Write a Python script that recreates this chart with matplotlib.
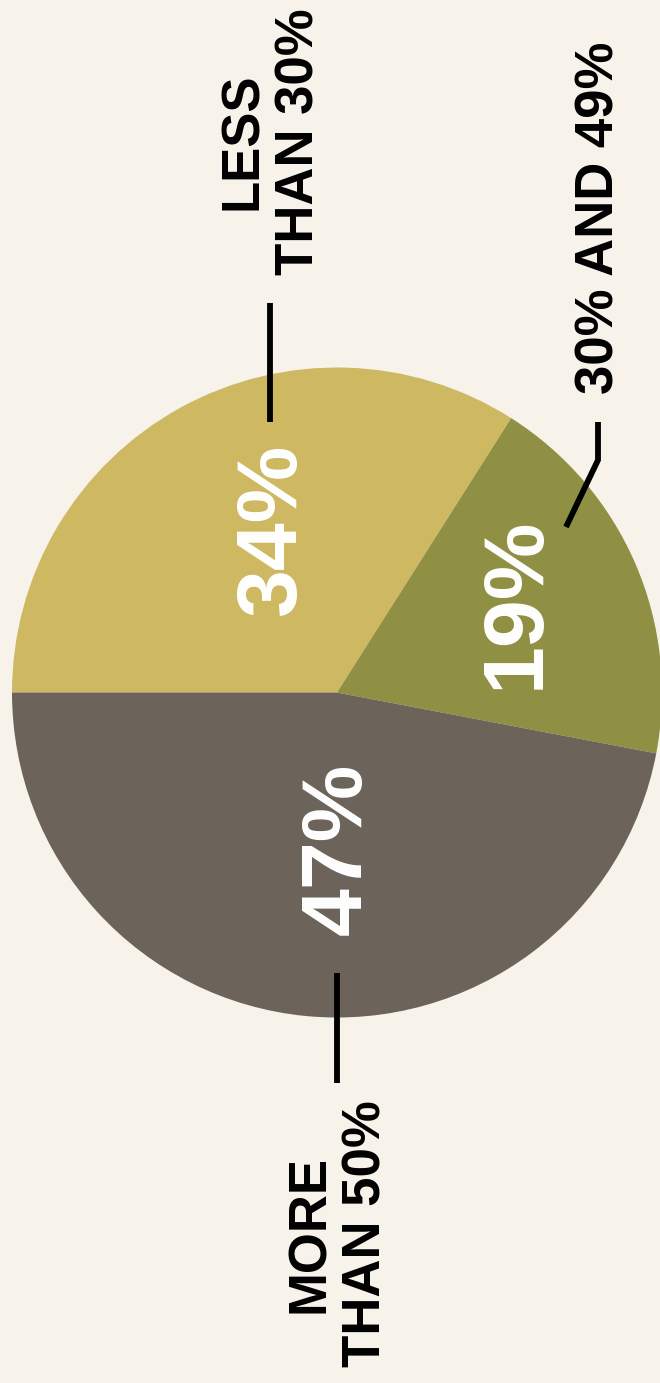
import matplotlib
matplotlib.use("Agg")
import matplotlib.pyplot as plt

# =================
# DANE
# =================
shares = [34, 19, 47]
slice_labels = ["34%", "19%", "47%"]
group_labels = ["LESS\nTHAN 30%", "30% AND 49%", "MORE\nTHAN 50%"]
colors = ["#CEB862", "#8F9043", "#6C645B"]

BG = "#F7F3EB"
W, H = 660, 1383

plt.rcParams["font.family"] = ["Liberation Sans", "DejaVu Sans"]

fig = plt.figure(figsize=(W / 100, H / 100), dpi=100, facecolor=BG)
ax = fig.add_axes([0, 0, 1, 1])
ax.set_facecolor(BG)


def py(y):
    # pixel from top -> data y (y up)
    return H - y


# =================
# PIE
# =================
ax.pie(shares, colors=colors, startangle=180, counterclock=False,
       center=(337, py(692.5)), radius=325,
       wedgeprops=dict(linewidth=0))

ax.set_xlim(0, W)
ax.set_ylim(0, H)
ax.set_aspect("auto")
ax.axis("off")

# wartosci w srodku
inner_pos = [(273.5, 530), (516.5, 602.5), (339, 849)]
for txt, (x, y) in zip(slice_labels, inner_pos):
    ax.text(x, py(y), txt, rotation=90, ha="center", va="center",
            rotation_mode="anchor", color="white", fontsize=62,
            fontweight="bold")

# opisy na zewnatrz
outer_pos = [(271, 141.5), (600, 217.5), (338, 1234)]
for txt, (x, y) in zip(group_labels, outer_pos):
    ax.text(x, py(y), txt, rotation=90, ha="center", va="center",
            rotation_mode="anchor", multialignment="center",
            color="black", fontsize=38, fontweight="bold", linespacing=1.17)

# linie
lw = 4.2
ax.plot([270, 270], [py(303), py(422)], color="black", lw=lw,
        solid_capstyle="butt")
ax.plot([598, 598, 566], [py(422), py(460), py(527)], color="black", lw=lw,
        solid_capstyle="butt", solid_joinstyle="miter")
ax.plot([337, 337], [py(973), py(1083)], color="black", lw=lw,
        solid_capstyle="butt")

fig.savefig("out.png", dpi=100, facecolor=BG)
